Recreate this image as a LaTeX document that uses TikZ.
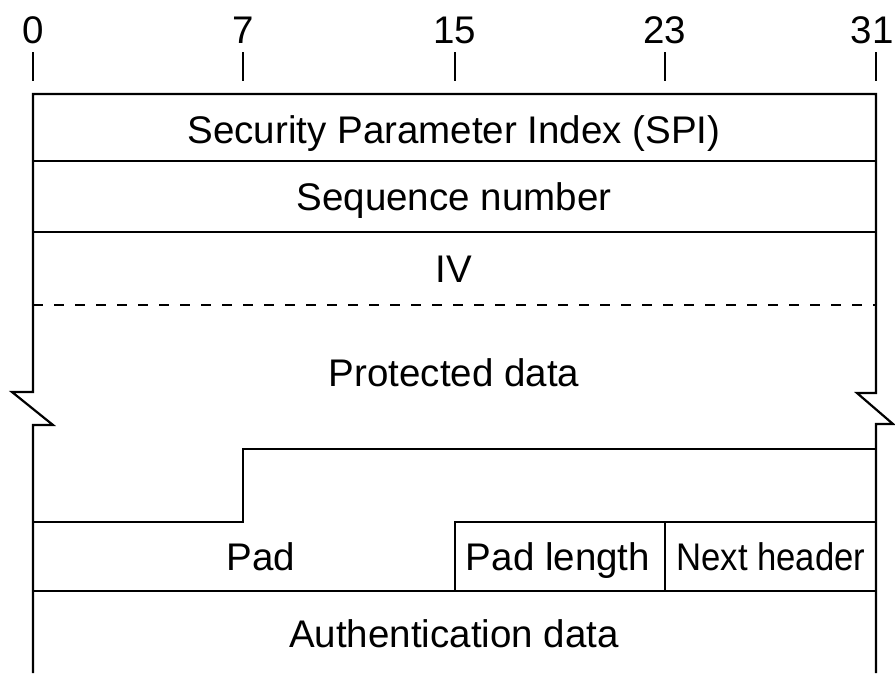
\documentclass[tikz,border=0pt]{standalone}
\usepackage{fontspec}
\setmainfont{Liberation Sans}
\usetikzlibrary{positioning}

\begin{document}
\begin{tikzpicture}[
  x=1pt, y=-1pt,
  field/.style={anchor=base, inner sep=0pt, font=\fontsize{38.5}{44}\selectfont},
  rule/.style={line width=2.2pt, line join=miter},
  tick/.style={line width=2.2pt},
]
\useasboundingbox (0,0) rectangle (895,673);

% Bit positions
\foreach \bit/\x/\lx in {0/33/33, 7/243/243, 15/455/455, 23/665/665, 31/876/872} {
  \node[field] (b\bit) at (\lx,43) {\bit};
  \draw[tick] (\x,52) -- (\x,81);
}

% Outline with break marks
\draw[rule] (33,673) -- (33,425) -- (53,425) -- (12,392) -- (33,392) -- (33,94)
  -- (876,94) -- (876,393) -- (857,393) -- (893,424) -- (876,424) -- (876,673);

% Rows
\draw[rule] (33,161) -- (876,161);
\draw[rule] (33,232) -- (876,232);
\draw[rule, line width=2pt, dash pattern=on 10pt off 11pt] (33,305) -- (876,305);
\draw[rule] (876,449) -- (243,449) -- (243,522) -- (33,522);
\draw[rule] (455,591) -- (455,522) -- (876,522);
\draw[rule] (665,522) -- (665,591);
\draw[rule] (33,591) -- (876,591);

% Field names
\node[field] (spi) at (454,143) {Security Parameter Index (SPI)};
\node[field] (seq) at (454,210) {Sequence number};
\node[field] (iv) at (454,282) {IV};
\node[field] (data) at (454,386) {Protected data};
\node[field] (pad) at (261,570) {Pad};
\node[field] (padlen) at (558,570) {Pad length};
\node[field] (nexthdr) at (771,570) {\scalebox{0.9}[1]{Next header}};
\node[field] (auth) at (454,647) {Authentication data};

\end{tikzpicture}
\end{document}
